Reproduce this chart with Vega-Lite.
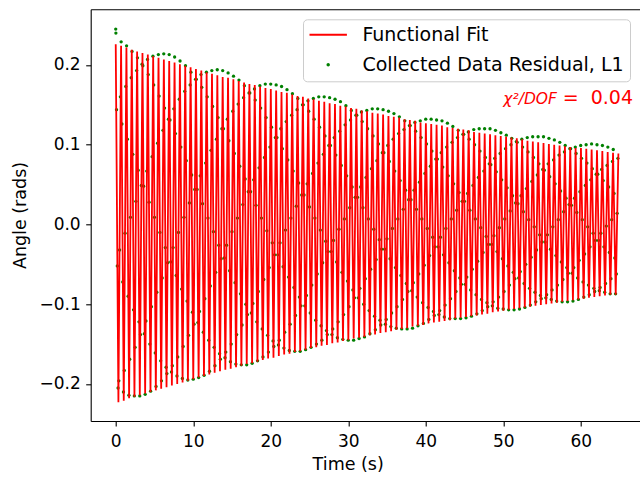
{
"$schema":"https://vega.github.io/schema/vega-lite/v6.json",
"width":549.3,"height":411.7,
"autosize":{"type":"none"},
"padding":{"left":90.7,"top":9.3,"right":0,"bottom":56},
"background":"#ffffff",
"config":{"view":{"stroke":null},"font":"DejaVu Sans",
"axis":{"grid":false,"domainColor":"#000000","domainWidth":1.1,"tickColor":"#000000","tickWidth":1.1,"tickSize":5,"labelColor":"#000000","titleColor":"#000000","labelFont":"DejaVu Sans","titleFont":"DejaVu Sans","labelFontSize":17,"titleFontSize":17.5,"titleFontWeight":"normal"}},
"datasets":{
"fit":[{"t":0,"y":0.226},{"t":0.345,"y":-0.223},{"t":0.69,"y":0.224},{"t":1.035,"y":-0.221},{"t":1.38,"y":0.222},{"t":1.725,"y":-0.218},{"t":2.07,"y":0.219},{"t":2.415,"y":-0.216},{"t":2.76,"y":0.217},{"t":3.105,"y":-0.214},{"t":3.45,"y":0.215},{"t":3.795,"y":-0.212},{"t":4.14,"y":0.213},{"t":4.485,"y":-0.21},{"t":4.83,"y":0.211},{"t":5.175,"y":-0.208},{"t":5.52,"y":0.209},{"t":5.865,"y":-0.206},{"t":6.21,"y":0.207},{"t":6.555,"y":-0.204},{"t":6.9,"y":0.205},{"t":7.245,"y":-0.202},{"t":7.59,"y":0.203},{"t":7.935,"y":-0.2},{"t":8.28,"y":0.201},{"t":8.625,"y":-0.198},{"t":8.97,"y":0.199},{"t":9.315,"y":-0.196},{"t":9.66,"y":0.197},{"t":10.005,"y":-0.194},{"t":10.35,"y":0.195},{"t":10.695,"y":-0.192},{"t":11.04,"y":0.193},{"t":11.385,"y":-0.19},{"t":11.73,"y":0.191},{"t":12.075,"y":-0.188},{"t":12.42,"y":0.189},{"t":12.765,"y":-0.186},{"t":13.11,"y":0.187},{"t":13.455,"y":-0.184},{"t":13.8,"y":0.185},{"t":14.145,"y":-0.182},{"t":14.49,"y":0.184},{"t":14.835,"y":-0.181},{"t":15.18,"y":0.182},{"t":15.525,"y":-0.179},{"t":15.87,"y":0.18},{"t":16.215,"y":-0.177},{"t":16.56,"y":0.178},{"t":16.905,"y":-0.175},{"t":17.25,"y":0.176},{"t":17.595,"y":-0.174},{"t":17.94,"y":0.175},{"t":18.285,"y":-0.172},{"t":18.63,"y":0.173},{"t":18.975,"y":-0.17},{"t":19.32,"y":0.171},{"t":19.665,"y":-0.168},{"t":20.01,"y":0.17},{"t":20.355,"y":-0.167},{"t":20.7,"y":0.168},{"t":21.045,"y":-0.165},{"t":21.39,"y":0.166},{"t":21.735,"y":-0.163},{"t":22.08,"y":0.165},{"t":22.425,"y":-0.162},{"t":22.77,"y":0.163},{"t":23.115,"y":-0.16},{"t":23.46,"y":0.161},{"t":23.805,"y":-0.159},{"t":24.15,"y":0.16},{"t":24.495,"y":-0.157},{"t":24.84,"y":0.158},{"t":25.185,"y":-0.155},{"t":25.53,"y":0.157},{"t":25.875,"y":-0.154},{"t":26.22,"y":0.155},{"t":26.565,"y":-0.152},{"t":26.91,"y":0.154},{"t":27.255,"y":-0.151},{"t":27.6,"y":0.152},{"t":27.945,"y":-0.149},{"t":28.29,"y":0.151},{"t":28.635,"y":-0.148},{"t":28.98,"y":0.149},{"t":29.325,"y":-0.146},{"t":29.67,"y":0.148},{"t":30.015,"y":-0.145},{"t":30.36,"y":0.146},{"t":30.705,"y":-0.143},{"t":31.05,"y":0.145},{"t":31.395,"y":-0.142},{"t":31.74,"y":0.143},{"t":32.085,"y":-0.141},{"t":32.43,"y":0.142},{"t":32.775,"y":-0.139},{"t":33.12,"y":0.14},{"t":33.465,"y":-0.138},{"t":33.81,"y":0.139},{"t":34.155,"y":-0.136},{"t":34.5,"y":0.138},{"t":34.845,"y":-0.135},{"t":35.19,"y":0.136},{"t":35.535,"y":-0.134},{"t":35.88,"y":0.135},{"t":36.225,"y":-0.132},{"t":36.57,"y":0.134},{"t":36.915,"y":-0.131},{"t":37.26,"y":0.132},{"t":37.605,"y":-0.13},{"t":37.95,"y":0.131},{"t":38.295,"y":-0.128},{"t":38.64,"y":0.13},{"t":38.985,"y":-0.127},{"t":39.33,"y":0.128},{"t":39.675,"y":-0.126},{"t":40.02,"y":0.127},{"t":40.365,"y":-0.124},{"t":40.71,"y":0.126},{"t":41.055,"y":-0.123},{"t":41.4,"y":0.125},{"t":41.745,"y":-0.122},{"t":42.09,"y":0.124},{"t":42.435,"y":-0.121},{"t":42.78,"y":0.122},{"t":43.125,"y":-0.12},{"t":43.47,"y":0.121},{"t":43.815,"y":-0.118},{"t":44.16,"y":0.12},{"t":44.505,"y":-0.117},{"t":44.85,"y":0.119},{"t":45.195,"y":-0.116},{"t":45.54,"y":0.118},{"t":45.885,"y":-0.115},{"t":46.23,"y":0.116},{"t":46.575,"y":-0.114},{"t":46.92,"y":0.115},{"t":47.265,"y":-0.113},{"t":47.61,"y":0.114},{"t":47.955,"y":-0.112},{"t":48.3,"y":0.113},{"t":48.645,"y":-0.11},{"t":48.99,"y":0.112},{"t":49.335,"y":-0.109},{"t":49.68,"y":0.111},{"t":50.025,"y":-0.108},{"t":50.37,"y":0.11},{"t":50.715,"y":-0.107},{"t":51.06,"y":0.109},{"t":51.405,"y":-0.106},{"t":51.75,"y":0.108},{"t":52.095,"y":-0.105},{"t":52.44,"y":0.107},{"t":52.785,"y":-0.104},{"t":53.13,"y":0.105},{"t":53.475,"y":-0.103},{"t":53.82,"y":0.104},{"t":54.165,"y":-0.102},{"t":54.51,"y":0.103},{"t":54.855,"y":-0.101},{"t":55.2,"y":0.102},{"t":55.545,"y":-0.1},{"t":55.89,"y":0.101},{"t":56.235,"y":-0.099},{"t":56.58,"y":0.1},{"t":56.925,"y":-0.098},{"t":57.27,"y":0.099},{"t":57.615,"y":-0.097},{"t":57.96,"y":0.098},{"t":58.305,"y":-0.096},{"t":58.65,"y":0.097},{"t":58.995,"y":-0.095},{"t":59.34,"y":0.096},{"t":59.685,"y":-0.094},{"t":60.03,"y":0.096},{"t":60.375,"y":-0.093},{"t":60.72,"y":0.095},{"t":61.065,"y":-0.092},{"t":61.41,"y":0.094},{"t":61.755,"y":-0.091},{"t":62.1,"y":0.093},{"t":62.445,"y":-0.09},{"t":62.79,"y":0.092},{"t":63.135,"y":-0.089},{"t":63.48,"y":0.091},{"t":63.825,"y":-0.088},{"t":64.17,"y":0.09},{"t":64.515,"y":-0.088},{"t":64.86,"y":0.089}],
"obs":[{"t":0,"y":0.245},{"t":0.02,"y":0.24},{"t":0.1,"y":0.144},{"t":0.2,"y":-0.052},{"t":0.3,"y":-0.205},{"t":0.4,"y":-0.196},{"t":0.5,"y":-0.032},{"t":0.6,"y":0.16},
{"t":0.7,"y":0.229},{"t":0.8,"y":0.126},{"t":0.9,"y":-0.072},{"t":1.0,"y":-0.21},{"t":1.1,"y":-0.183},{"t":1.2,"y":-0.011},{"t":1.3,"y":0.173},
{"t":1.4,"y":0.224},{"t":1.5,"y":0.107},{"t":1.6,"y":-0.09},{"t":1.7,"y":-0.214},{"t":1.8,"y":-0.169},{"t":1.9,"y":0.009},{"t":2.0,"y":0.184},
{"t":2.1,"y":0.217},{"t":2.2,"y":0.088},{"t":2.3,"y":-0.107},{"t":2.4,"y":-0.215},{"t":2.5,"y":-0.154},{"t":2.6,"y":0.029},{"t":2.7,"y":0.193},
{"t":2.8,"y":0.209},{"t":2.9,"y":0.068},{"t":3.0,"y":-0.122},{"t":3.1,"y":-0.215},{"t":3.2,"y":-0.138},{"t":3.3,"y":0.049},{"t":3.4,"y":0.201},
{"t":3.5,"y":0.199},{"t":3.6,"y":0.048},{"t":3.7,"y":-0.137},{"t":3.8,"y":-0.213},{"t":3.9,"y":-0.121},{"t":4.0,"y":0.067},{"t":4.1,"y":0.207},
{"t":4.2,"y":0.188},{"t":4.3,"y":0.028},{"t":4.4,"y":-0.15},{"t":4.5,"y":-0.209},{"t":4.6,"y":-0.103},{"t":4.7,"y":0.085},{"t":4.8,"y":0.211},
{"t":4.9,"y":0.175},{"t":5.0,"y":0.009},{"t":5.1,"y":-0.161},{"t":5.2,"y":-0.203},{"t":5.3,"y":-0.085},{"t":5.4,"y":0.102},{"t":5.5,"y":0.213},
{"t":5.6,"y":0.161},{"t":5.7,"y":-0.01},{"t":5.8,"y":-0.171},{"t":5.9,"y":-0.196},{"t":6.0,"y":-0.067},{"t":6.1,"y":0.118},{"t":6.2,"y":0.214},
{"t":6.3,"y":0.146},{"t":6.4,"y":-0.029},{"t":6.5,"y":-0.179},{"t":6.6,"y":-0.187},{"t":6.7,"y":-0.048},{"t":6.8,"y":0.132},{"t":6.9,"y":0.213},
{"t":7.0,"y":0.131},{"t":7.1,"y":-0.047},{"t":7.2,"y":-0.185},{"t":7.3,"y":-0.177},{"t":7.4,"y":-0.029},{"t":7.5,"y":0.145},{"t":7.6,"y":0.21},
{"t":7.7,"y":0.114},{"t":7.8,"y":-0.064},{"t":7.9,"y":-0.19},{"t":8.0,"y":-0.166},{"t":8.1,"y":-0.01},{"t":8.2,"y":0.157},{"t":8.3,"y":0.205},
{"t":8.4,"y":0.097},{"t":8.5,"y":-0.081},{"t":8.6,"y":-0.193},{"t":8.7,"y":-0.153},{"t":8.8,"y":0.009},{"t":8.9,"y":0.167},{"t":9.0,"y":0.199},
{"t":9.1,"y":0.08},{"t":9.2,"y":-0.096},{"t":9.3,"y":-0.195},{"t":9.4,"y":-0.139},{"t":9.5,"y":0.027},{"t":9.6,"y":0.175},{"t":9.7,"y":0.191},
{"t":9.8,"y":0.062},{"t":9.9,"y":-0.11},{"t":10.0,"y":-0.194},{"t":10.1,"y":-0.125},{"t":10.2,"y":0.044},{"t":10.3,"y":0.182},{"t":10.4,"y":0.182},
{"t":10.5,"y":0.044},{"t":10.6,"y":-0.123},{"t":10.7,"y":-0.192},{"t":10.8,"y":-0.109},{"t":10.9,"y":0.061},{"t":11.0,"y":0.188},{"t":11.1,"y":0.172},
{"t":11.2,"y":0.026},{"t":11.3,"y":-0.135},{"t":11.4,"y":-0.189},{"t":11.5,"y":-0.093},{"t":11.6,"y":0.077},{"t":11.7,"y":0.191},{"t":11.8,"y":0.16},
{"t":11.9,"y":0.008},{"t":12.0,"y":-0.145},{"t":12.1,"y":-0.184},{"t":12.2,"y":-0.077},{"t":12.3,"y":0.093},{"t":12.4,"y":0.193},{"t":12.5,"y":0.148},
{"t":12.6,"y":-0.009},{"t":12.7,"y":-0.154},{"t":12.8,"y":-0.177},{"t":12.9,"y":-0.06},{"t":13.0,"y":0.107},{"t":13.1,"y":0.194},{"t":13.2,"y":0.134},
{"t":13.3,"y":-0.026},{"t":13.4,"y":-0.162},{"t":13.5,"y":-0.169},{"t":13.6,"y":-0.043},{"t":13.7,"y":0.12},{"t":13.8,"y":0.193},{"t":13.9,"y":0.12},
{"t":14.0,"y":-0.042},{"t":14.1,"y":-0.167},{"t":14.2,"y":-0.16},{"t":14.3,"y":-0.026},{"t":14.4,"y":0.132},{"t":14.5,"y":0.19},{"t":14.6,"y":0.105},
{"t":14.7,"y":-0.058},{"t":14.8,"y":-0.172},{"t":14.9,"y":-0.15},{"t":15.0,"y":-0.009},{"t":15.1,"y":0.142},{"t":15.2,"y":0.186},{"t":15.3,"y":0.089},
{"t":15.4,"y":-0.073},{"t":15.5,"y":-0.175},{"t":15.6,"y":-0.138},{"t":15.7,"y":0.008},{"t":15.8,"y":0.151},{"t":15.9,"y":0.181},{"t":16.0,"y":0.073},
{"t":16.1,"y":-0.087},{"t":16.2,"y":-0.176},{"t":16.3,"y":-0.126},{"t":16.4,"y":0.025},{"t":16.5,"y":0.159},{"t":16.6,"y":0.174},{"t":16.7,"y":0.057},
{"t":16.8,"y":-0.1},{"t":16.9,"y":-0.176},{"t":17.0,"y":-0.113},{"t":17.1,"y":0.041},{"t":17.2,"y":0.165},{"t":17.3,"y":0.165},{"t":17.4,"y":0.041},
{"t":17.5,"y":-0.111},{"t":17.6,"y":-0.174},{"t":17.7,"y":-0.099},{"t":17.8,"y":0.056},{"t":17.9,"y":0.17},{"t":18.0,"y":0.156},{"t":18.1,"y":0.024},
{"t":18.2,"y":-0.122},{"t":18.3,"y":-0.171},{"t":18.4,"y":-0.084},{"t":18.5,"y":0.071},{"t":18.6,"y":0.174},{"t":18.7,"y":0.146},{"t":18.8,"y":0.008},
{"t":18.9,"y":-0.131},{"t":19.0,"y":-0.166},{"t":19.1,"y":-0.069},{"t":19.2,"y":0.084},{"t":19.3,"y":0.176},{"t":19.4,"y":0.134},{"t":19.5,"y":-0.008},
{"t":19.6,"y":-0.139},{"t":19.7,"y":-0.16},{"t":19.8,"y":-0.054},{"t":19.9,"y":0.097},{"t":20.0,"y":0.176},{"t":20.1,"y":0.122},{"t":20.2,"y":-0.023},
{"t":20.3,"y":-0.146},{"t":20.4,"y":-0.153},{"t":20.5,"y":-0.038},{"t":20.6,"y":0.109},{"t":20.7,"y":0.175},{"t":20.8,"y":0.109},{"t":20.9,"y":-0.038},
{"t":21.0,"y":-0.151},{"t":21.1,"y":-0.145},{"t":21.2,"y":-0.023},{"t":21.3,"y":0.12},{"t":21.4,"y":0.173},{"t":21.5,"y":0.095},{"t":21.6,"y":-0.053},
{"t":21.7,"y":-0.155},{"t":21.8,"y":-0.135},{"t":21.9,"y":-0.007},{"t":22.0,"y":0.129},{"t":22.1,"y":0.169},{"t":22.2,"y":0.081},{"t":22.3,"y":-0.066},
{"t":22.4,"y":-0.158},{"t":22.5,"y":-0.125},{"t":22.6,"y":0.008},{"t":22.7,"y":0.137},{"t":22.8,"y":0.164},{"t":22.9,"y":0.067},{"t":23.0,"y":-0.079},
{"t":23.1,"y":-0.159},{"t":23.2,"y":-0.114},{"t":23.3,"y":0.023},{"t":23.4,"y":0.144},{"t":23.5,"y":0.158},{"t":23.6,"y":0.052},{"t":23.7,"y":-0.091},
{"t":23.8,"y":-0.159},{"t":23.9,"y":-0.102},{"t":24.0,"y":0.037},{"t":24.1,"y":0.15},{"t":24.2,"y":0.15},{"t":24.3,"y":0.037},{"t":24.4,"y":-0.102},
{"t":24.5,"y":-0.157},{"t":24.6,"y":-0.089},{"t":24.7,"y":0.051},{"t":24.8,"y":0.155},{"t":24.9,"y":0.142},{"t":25.0,"y":0.022},{"t":25.1,"y":-0.111},
{"t":25.2,"y":-0.154},{"t":25.3,"y":-0.076},{"t":25.4,"y":0.064},{"t":25.5,"y":0.158},{"t":25.6,"y":0.132},{"t":25.7,"y":0.008},{"t":25.8,"y":-0.12},
{"t":25.9,"y":-0.15},{"t":26.0,"y":-0.062},{"t":26.1,"y":0.077},{"t":26.2,"y":0.16},{"t":26.3,"y":0.122},{"t":26.4,"y":-0.007},{"t":26.5,"y":-0.127},
{"t":26.6,"y":-0.145},{"t":26.7,"y":-0.048},{"t":26.8,"y":0.088},{"t":26.9,"y":0.16},{"t":27.0,"y":0.111},{"t":27.1,"y":-0.021},{"t":27.2,"y":-0.133},
{"t":27.3,"y":-0.138},{"t":27.4,"y":-0.034},{"t":27.5,"y":0.099},{"t":27.6,"y":0.159},{"t":27.7,"y":0.099},{"t":27.8,"y":-0.034},{"t":27.9,"y":-0.138},
{"t":28.0,"y":-0.131},{"t":28.1,"y":-0.02},{"t":28.2,"y":0.109},{"t":28.3,"y":0.157},{"t":28.4,"y":0.087},{"t":28.5,"y":-0.047},{"t":28.6,"y":-0.142},
{"t":28.7,"y":-0.122},{"t":28.8,"y":-0.006},{"t":28.9,"y":0.117},{"t":29.0,"y":0.154},{"t":29.1,"y":0.074},{"t":29.2,"y":-0.06},{"t":29.3,"y":-0.144},
{"t":29.4,"y":-0.113},{"t":29.5,"y":0.007},{"t":29.6,"y":0.125},{"t":29.7,"y":0.149},{"t":29.8,"y":0.061},{"t":29.9,"y":-0.071},{"t":30.0,"y":-0.145},
{"t":30.1,"y":-0.103},{"t":30.2,"y":0.021},{"t":30.3,"y":0.131},{"t":30.4,"y":0.143},{"t":30.5,"y":0.047},{"t":30.6,"y":-0.082},{"t":30.7,"y":-0.145},
{"t":30.8,"y":-0.092},{"t":30.9,"y":0.034},{"t":31.0,"y":0.137},{"t":31.1,"y":0.137},{"t":31.2,"y":0.034},{"t":31.3,"y":-0.092},{"t":31.4,"y":-0.143},
{"t":31.5,"y":-0.08},{"t":31.6,"y":0.047},{"t":31.7,"y":0.141},{"t":31.8,"y":0.129},{"t":31.9,"y":0.021},{"t":32.0,"y":-0.1},{"t":32.1,"y":-0.141},
{"t":32.2,"y":-0.068},{"t":32.3,"y":0.059},{"t":32.4,"y":0.143},{"t":32.5,"y":0.12},{"t":32.6,"y":0.007},{"t":32.7,"y":-0.108},{"t":32.8,"y":-0.137},
{"t":32.9,"y":-0.056},{"t":33.0,"y":0.07},{"t":33.1,"y":0.145},{"t":33.2,"y":0.111},{"t":33.3,"y":-0.006},{"t":33.4,"y":-0.115},{"t":33.5,"y":-0.132},
{"t":33.6,"y":-0.044},{"t":33.7,"y":0.08},{"t":33.8,"y":0.145},{"t":33.9,"y":0.101},{"t":34.0,"y":-0.019},{"t":34.1,"y":-0.12},{"t":34.2,"y":-0.126},
{"t":34.3,"y":-0.031},{"t":34.4,"y":0.09},{"t":34.5,"y":0.144},{"t":34.6,"y":0.09},{"t":34.7,"y":-0.031},{"t":34.8,"y":-0.125},{"t":34.9,"y":-0.119},
{"t":35.0,"y":-0.018},{"t":35.1,"y":0.099},{"t":35.2,"y":0.142},{"t":35.3,"y":0.079},{"t":35.4,"y":-0.043},{"t":35.5,"y":-0.128},{"t":35.6,"y":-0.111},
{"t":35.7,"y":-0.005},{"t":35.8,"y":0.107},{"t":35.9,"y":0.139},{"t":36.0,"y":0.067},{"t":36.1,"y":-0.054},{"t":36.2,"y":-0.13},{"t":36.3,"y":-0.103},
{"t":36.4,"y":0.007},{"t":36.5,"y":0.114},{"t":36.6,"y":0.135},{"t":36.7,"y":0.055},{"t":36.8,"y":-0.064},{"t":36.9,"y":-0.131},{"t":37.0,"y":-0.094},
{"t":37.1,"y":0.019},{"t":37.2,"y":0.119},{"t":37.3,"y":0.13},{"t":37.4,"y":0.043},{"t":37.5,"y":-0.074},{"t":37.6,"y":-0.131},{"t":37.7,"y":-0.084},
{"t":37.8,"y":0.031},{"t":37.9,"y":0.124},{"t":38.0,"y":0.124},{"t":38.1,"y":0.031},{"t":38.2,"y":-0.083},{"t":38.3,"y":-0.13},{"t":38.4,"y":-0.073},
{"t":38.5,"y":0.043},{"t":38.6,"y":0.128},{"t":38.7,"y":0.117},{"t":38.8,"y":0.019},{"t":38.9,"y":-0.091},{"t":39.0,"y":-0.127},{"t":39.1,"y":-0.062},
{"t":39.2,"y":0.053},{"t":39.3,"y":0.13},{"t":39.4,"y":0.109},{"t":39.5,"y":0.007},{"t":39.6,"y":-0.098},{"t":39.7,"y":-0.124},{"t":39.8,"y":-0.051},
{"t":39.9,"y":0.064},{"t":40.0,"y":0.132},{"t":40.1,"y":0.101},{"t":40.2,"y":-0.005},{"t":40.3,"y":-0.104},{"t":40.4,"y":-0.119},{"t":40.5,"y":-0.039},
{"t":40.6,"y":0.073},{"t":40.7,"y":0.132},{"t":40.8,"y":0.092},{"t":40.9,"y":-0.016},{"t":41.0,"y":-0.109},{"t":41.1,"y":-0.114},{"t":41.2,"y":-0.028},
{"t":41.3,"y":0.082},{"t":41.4,"y":0.131},{"t":41.5,"y":0.082},{"t":41.6,"y":-0.028},{"t":41.7,"y":-0.113},{"t":41.8,"y":-0.108},{"t":41.9,"y":-0.016},
{"t":42.0,"y":0.09},{"t":42.1,"y":0.13},{"t":42.2,"y":0.072},{"t":42.3,"y":-0.038},{"t":42.4,"y":-0.116},{"t":42.5,"y":-0.101},{"t":42.6,"y":-0.005},
{"t":42.7,"y":0.097},{"t":42.8,"y":0.127},{"t":42.9,"y":0.061},{"t":43.0,"y":-0.048},{"t":43.1,"y":-0.118},{"t":43.2,"y":-0.093},{"t":43.3,"y":0.007},
{"t":43.4,"y":0.103},{"t":43.5,"y":0.123},{"t":43.6,"y":0.051},{"t":43.7,"y":-0.058},{"t":43.8,"y":-0.118},{"t":43.9,"y":-0.084},{"t":44.0,"y":0.018},
{"t":44.1,"y":0.109},{"t":44.2,"y":0.118},{"t":44.3,"y":0.04},{"t":44.4,"y":-0.067},{"t":44.5,"y":-0.118},{"t":44.6,"y":-0.075},{"t":44.7,"y":0.029},
{"t":44.8,"y":0.113},{"t":44.9,"y":0.113},{"t":45.0,"y":0.029},{"t":45.1,"y":-0.075},{"t":45.2,"y":-0.117},{"t":45.3,"y":-0.066},{"t":45.4,"y":0.039},
{"t":45.5,"y":0.116},{"t":45.6,"y":0.107},{"t":45.7,"y":0.018},{"t":45.8,"y":-0.082},{"t":45.9,"y":-0.115},{"t":46.0,"y":-0.056},{"t":46.1,"y":0.049},
{"t":46.2,"y":0.119},{"t":46.3,"y":0.1},{"t":46.4,"y":0.007},{"t":46.5,"y":-0.088},{"t":46.6,"y":-0.112},{"t":46.7,"y":-0.046},{"t":46.8,"y":0.059},
{"t":46.9,"y":0.12},{"t":47.0,"y":0.092},{"t":47.1,"y":-0.004},{"t":47.2,"y":-0.094},{"t":47.3,"y":-0.108},{"t":47.4,"y":-0.035},{"t":47.5,"y":0.067},
{"t":47.6,"y":0.12},{"t":47.7,"y":0.084},{"t":47.8,"y":-0.015},{"t":47.9,"y":-0.098},{"t":48.0,"y":-0.103},{"t":48.1,"y":-0.025},{"t":48.2,"y":0.076},
{"t":48.3,"y":0.12},{"t":48.4,"y":0.075},{"t":48.5,"y":-0.025},{"t":48.6,"y":-0.102},{"t":48.7,"y":-0.097},{"t":48.8,"y":-0.014},{"t":48.9,"y":0.083},
{"t":49.0,"y":0.118},{"t":49.1,"y":0.066},{"t":49.2,"y":-0.034},{"t":49.3,"y":-0.105},{"t":49.4,"y":-0.091},{"t":49.5,"y":-0.004},{"t":49.6,"y":0.089},
{"t":49.7,"y":0.115},{"t":49.8,"y":0.056},{"t":49.9,"y":-0.043},{"t":50.0,"y":-0.106},{"t":50.1,"y":-0.084},{"t":50.2,"y":0.007},{"t":50.3,"y":0.095},
{"t":50.4,"y":0.112},{"t":50.5,"y":0.046},{"t":50.6,"y":-0.052},{"t":50.7,"y":-0.107},{"t":50.8,"y":-0.076},{"t":50.9,"y":0.017},{"t":51.0,"y":0.1},
{"t":51.1,"y":0.108},{"t":51.2,"y":0.036},{"t":51.3,"y":-0.06},{"t":51.4,"y":-0.107},{"t":51.5,"y":-0.068},{"t":51.6,"y":0.027},{"t":51.7,"y":0.104},
{"t":51.8,"y":0.103},{"t":51.9,"y":0.026},{"t":52.0,"y":-0.067},{"t":52.1,"y":-0.106},{"t":52.2,"y":-0.059},{"t":52.3,"y":0.036},{"t":52.4,"y":0.107},
{"t":52.5,"y":0.097},{"t":52.6,"y":0.016},{"t":52.7,"y":-0.074},{"t":52.8,"y":-0.104},{"t":52.9,"y":-0.05},{"t":53.0,"y":0.045},{"t":53.1,"y":0.109},
{"t":53.2,"y":0.091},{"t":53.3,"y":0.006},{"t":53.4,"y":-0.08},{"t":53.5,"y":-0.101},{"t":53.6,"y":-0.041},{"t":53.7,"y":0.054},{"t":53.8,"y":0.11},
{"t":53.9,"y":0.084},{"t":54.0,"y":-0.003},{"t":54.1,"y":-0.085},{"t":54.2,"y":-0.097},{"t":54.3,"y":-0.032},{"t":54.4,"y":0.062},{"t":54.5,"y":0.11},
{"t":54.6,"y":0.076},{"t":54.7,"y":-0.013},{"t":54.8,"y":-0.089},{"t":54.9,"y":-0.093},{"t":55.0,"y":-0.022},{"t":55.1,"y":0.069},{"t":55.2,"y":0.11},
{"t":55.3,"y":0.068},{"t":55.4,"y":-0.022},{"t":55.5,"y":-0.092},{"t":55.6,"y":-0.088},{"t":55.7,"y":-0.013},{"t":55.8,"y":0.076},{"t":55.9,"y":0.108},
{"t":56.0,"y":0.06},{"t":56.1,"y":-0.031},{"t":56.2,"y":-0.094},{"t":56.3,"y":-0.082},{"t":56.4,"y":-0.003},{"t":56.5,"y":0.081},{"t":56.6,"y":0.106},
{"t":56.7,"y":0.051},{"t":56.8,"y":-0.039},{"t":56.9,"y":-0.096},{"t":57.0,"y":-0.076},{"t":57.1,"y":0.006},{"t":57.2,"y":0.087},{"t":57.3,"y":0.103},
{"t":57.4,"y":0.042},{"t":57.5,"y":-0.047},{"t":57.6,"y":-0.097},{"t":57.7,"y":-0.069},{"t":57.8,"y":0.016},{"t":57.9,"y":0.091},{"t":58.0,"y":0.099},
{"t":58.1,"y":0.033},{"t":58.2,"y":-0.054},{"t":58.3,"y":-0.097},{"t":58.4,"y":-0.061},{"t":58.5,"y":0.025},{"t":58.6,"y":0.095},{"t":58.7,"y":0.095},
{"t":58.8,"y":0.024},{"t":58.9,"y":-0.061},{"t":59.0,"y":-0.096},{"t":59.1,"y":-0.054},{"t":59.2,"y":0.033},{"t":59.3,"y":0.097},{"t":59.4,"y":0.089},
{"t":59.5,"y":0.015},{"t":59.6,"y":-0.067},{"t":59.7,"y":-0.094},{"t":59.8,"y":-0.045},{"t":59.9,"y":0.041},{"t":60.0,"y":0.099},{"t":60.1,"y":0.083},
{"t":60.2,"y":0.006},{"t":60.3,"y":-0.072},{"t":60.4,"y":-0.091},{"t":60.5,"y":-0.037},{"t":60.6,"y":0.049},{"t":60.7,"y":0.1},{"t":60.8,"y":0.077},
{"t":60.9,"y":-0.003},{"t":61.0,"y":-0.076},{"t":61.1,"y":-0.088},{"t":61.2,"y":-0.028},{"t":61.3,"y":0.056},{"t":61.4,"y":0.101},{"t":61.5,"y":0.07},
{"t":61.6,"y":-0.011},{"t":61.7,"y":-0.08},{"t":61.8,"y":-0.084},{"t":61.9,"y":-0.02},{"t":62.0,"y":0.063},{"t":62.1,"y":0.1},{"t":62.2,"y":0.063},
{"t":62.3,"y":-0.02},{"t":62.4,"y":-0.083},{"t":62.5,"y":-0.079},{"t":62.6,"y":-0.011},{"t":62.7,"y":0.069},{"t":62.8,"y":0.099},{"t":62.9,"y":0.055},
{"t":63.0,"y":-0.028},{"t":63.1,"y":-0.085},{"t":63.2,"y":-0.074},{"t":63.3,"y":-0.002},{"t":63.4,"y":0.074},{"t":63.5,"y":0.097},{"t":63.6,"y":0.047},
{"t":63.7,"y":-0.035},{"t":63.8,"y":-0.087},{"t":63.9,"y":-0.068},{"t":64.0,"y":0.006},{"t":64.1,"y":0.079},{"t":64.2,"y":0.094},{"t":64.3,"y":0.039},
{"t":64.4,"y":-0.042},{"t":64.5,"y":-0.087},{"t":64.6,"y":-0.062},{"t":64.7,"y":0.014},{"t":64.8,"y":0.083}]
},
"layer":[
{"data":{"name":"obs"},
 "mark":{"type":"point","filled":true,"shape":"circle","size":11,"opacity":1,"strokeWidth":0},
 "encoding":{
  "x":{"field":"t","type":"quantitative","scale":{"domain":[-3.23,67.65],"nice":false,"zero":false},
       "axis":{"orient":"bottom","values":[0,10,20,30,40,50,60],"format":"d","labelPadding":7.5,"title":"Time (s)","titleX":257,"titleY":48.8,"titleAlign":"center","titleBaseline":"alphabetic"}},
  "y":{"field":"y","type":"quantitative","scale":{"domain":[-0.2464,0.2698],"nice":false,"zero":false},
       "axis":{"values":[-0.2,-0.1,0,0.1,0.2],"format":".1f","labelPadding":5.5,"title":"Angle (rads)","titleX":-65.7,"titleY":205.7,"titleAngle":-90,"titleAlign":"center","titleBaseline":"alphabetic"}},
  "color":{"datum":"Collected Data Residual, L1","type":"nominal",
    "scale":{"domain":["Functional Fit","Collected Data Residual, L1"],"range":["#ff0000","#008000"]},
    "legend":{"title":null,"orient":"none","legendX":212.3,"legendY":10,"direction":"vertical",
      "labelFont":"DejaVu Sans","labelFontSize":19,"labelColor":"#000000","labelOffset":34.4,"labelLimit":500,
      "rowPadding":10,"padding":6,"symbolSize":324,"symbolStrokeWidth":0,"symbolOpacity":1,
      "strokeColor":"#cccccc","fillColor":"rgba(255,255,255,0.8)","cornerRadius":4}}
 }},
{"data":{"name":"fit"},
 "mark":{"type":"line","strokeWidth":1.8,"clip":true},
 "encoding":{
  "x":{"field":"t","type":"quantitative","axis":{"orient":"top","labels":false,"ticks":false,"title":null,"domain":true}},
  "y":{"field":"y","type":"quantitative","axis":null},
  "color":{"datum":"Functional Fit","type":"nominal"}
 }},
{"data":{"values":[{}]},
 "mark":{"type":"point","filled":true,"opacity":0,"size":0},
 "encoding":{
  "x":{"datum":0,"type":"quantitative","axis":null},
  "y":{"datum":0,"type":"quantitative","axis":null},
  "shape":{"datum":"Collected Data Residual, L1","type":"nominal",
    "scale":{"domain":["Functional Fit","Collected Data Residual, L1"],"range":["M-1,-0.117H3.156V0.117H-1Z","M0.889,0A0.189,0.189 0 1,0 1.267,0A0.189,0.189 0 1,0 0.889,0Z"]},
    "legend":{"title":null,"orient":"none","legendX":212.3,"legendY":10,"direction":"vertical",
      "labelFont":"DejaVu Sans","labelFontSize":19,"labelColor":"#000000","labelOffset":34.4,"labelLimit":500,
      "rowPadding":10,"padding":6,"symbolSize":324,"symbolStrokeWidth":0,"symbolOpacity":1,
      "strokeColor":"#cccccc","fillColor":"rgba(255,255,255,0.8)","cornerRadius":4}}
 }},
{"data":{"values":[{}]},
 "mark":{"type":"text","text":"χ²/DOF","font":"DejaVu Sans","fontStyle":"italic","fontSize":15.5,"align":"right","baseline":"alphabetic","color":"#ff0000"},
 "encoding":{"x":{"datum":56.94,"type":"quantitative","axis":null},"y":{"datum":0.1507,"type":"quantitative","axis":null}}},
{"data":{"values":[{}]},
 "mark":{"type":"text","text":"= \u00a00.04","font":"DejaVu Sans","fontSize":19,"align":"right","baseline":"alphabetic","color":"#ff0000"},
 "encoding":{"x":{"datum":66.75,"type":"quantitative","axis":null},"y":{"datum":0.1507,"type":"quantitative","axis":null}}}
],
"resolve":{"axis":{"x":"independent","y":"independent"}}
}
